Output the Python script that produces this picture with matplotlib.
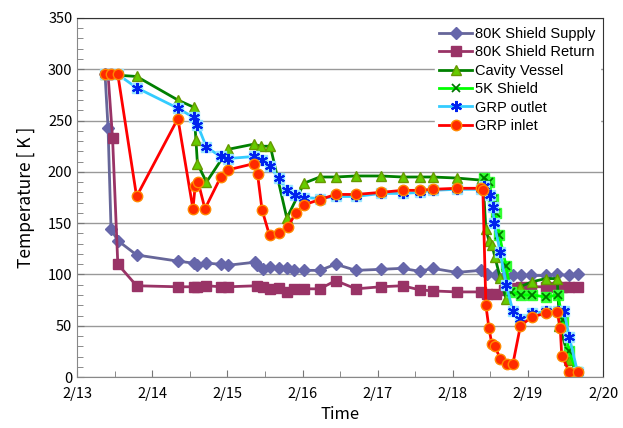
import matplotlib
matplotlib.use("Agg")
import matplotlib.pyplot as plt
from matplotlib.ticker import MultipleLocator

plt.rcParams['font.family'] = ['Noto Sans CJK JP', 'DejaVu Sans']

# time in days of February (13.0 = 2/13 0:00)
t_supply = [13.37, 13.41, 13.45, 13.54, 13.79, 14.34, 14.55, 14.60, 14.72, 14.91, 15.01,
            15.37, 15.39, 15.47, 15.57, 15.68, 15.79, 15.89, 16.02, 16.23, 16.44, 16.71,
            17.04, 17.33, 17.56, 17.73, 18.05, 18.37, 18.46, 18.57, 18.68, 18.80, 18.91,
            19.04, 19.24, 19.39, 19.55, 19.66]
v_supply = [295, 243, 144, 133, 119, 113, 111, 109, 111, 110, 109,
            112, 109, 105, 107, 106, 106, 104, 104, 104, 110, 104,
            105, 106, 103, 106, 102, 104, 100, 99, 98, 99, 99,
            99, 99, 100, 99, 100]

t_return = [13.41, 13.47, 13.54, 13.79, 14.34, 14.55, 14.60, 14.72, 14.91, 15.01,
            15.39, 15.47, 15.57, 15.68, 15.79, 15.89, 16.02, 16.23, 16.44, 16.71,
            17.04, 17.33, 17.56, 17.73, 18.05, 18.37, 18.46, 18.57, 18.68, 18.80,
            18.91, 19.04, 19.24, 19.39, 19.45, 19.55, 19.66]
v_return = [295, 233, 110, 89, 88, 88, 88, 89, 88, 88,
            89, 88, 86, 87, 83, 86, 86, 86, 94, 86,
            88, 89, 85, 84, 83, 83, 81, 81, 85, 87,
            88, 88, 88, 88, 88, 88, 88]

t_cavity = [13.37, 13.79, 14.34, 14.55, 14.58, 14.60, 14.72, 15.01, 15.35, 15.44, 15.57,
            15.79, 16.02, 16.23, 16.44, 16.71, 17.04, 17.33, 17.56, 17.73, 18.05, 18.37,
            18.40, 18.44, 18.48, 18.52, 18.56, 18.63, 18.71, 18.89, 19.06, 19.24, 19.39,
            19.42, 19.55, 19.66]
v_cavity = [295, 293, 270, 263, 231, 208, 190, 222, 227, 225, 225,
            155, 189, 195, 195, 196, 196, 195, 195, 195, 194, 192,
            194, 144, 133, 129, 117, 97, 76, 88, 93, 96, 96,
            50, 17, 5]

t_5k = [18.41, 18.48, 18.53, 18.57, 18.62, 18.71, 18.77, 18.91, 19.06, 19.24, 19.40,
        19.46, 19.55, 19.65]
v_5k = [194, 190, 174, 160, 138, 108, 83, 80, 80, 78, 80,
        56, 25, 5]

t_outlet = [13.37, 13.45, 13.54, 13.79, 14.34, 14.55, 14.60, 14.72, 14.91, 15.01, 15.35,
            15.46, 15.56, 15.68, 15.79, 15.90, 16.02, 16.23, 16.44, 16.71, 17.04, 17.33,
            17.56, 17.73, 18.05, 18.37, 18.41, 18.50, 18.53, 18.55, 18.63, 18.71, 18.80,
            18.90, 19.06, 19.24, 19.40, 19.48, 19.55, 19.66]
v_outlet = [295, 295, 295, 282, 262, 253, 246, 224, 215, 213, 215,
            212, 206, 194, 182, 177, 175, 174, 176, 176, 179, 179,
            180, 182, 183, 183, 186, 177, 166, 150, 122, 90, 64,
            57, 62, 64, 64, 64, 39, 5]

t_inlet = [13.37, 13.45, 13.54, 13.79, 14.34, 14.54, 14.57, 14.61, 14.70, 14.91, 15.01,
           15.35, 15.40, 15.46, 15.56, 15.68, 15.80, 15.91, 16.02, 16.23, 16.44, 16.71,
           17.04, 17.33, 17.56, 17.73, 18.05, 18.37, 18.40, 18.44, 18.48, 18.52, 18.56,
           18.63, 18.72, 18.80, 18.90, 19.06, 19.24, 19.39, 19.43, 19.45, 19.55, 19.66]
v_inlet = [295, 295, 295, 176, 252, 164, 186, 190, 164, 195, 202,
           208, 198, 163, 138, 140, 146, 160, 168, 173, 178, 178,
           180, 182, 182, 183, 184, 184, 182, 70, 48, 32, 30,
           18, 13, 13, 50, 59, 62, 63, 48, 21, 5, 5]

day_labels = ["2/13", "2/14", "2/15", "2/16", "2/17", "2/18", "2/19", "2/20"]

fig = plt.figure(figsize=(6.23, 4.28), dpi=100)
ax = fig.add_axes([0.124, 0.119, 0.844, 0.839])

lw = 2.0
ax.plot(t_supply, v_supply, color='#666699', lw=lw, marker='D', ms=6,
        mfc='#6666aa', mec='#6666aa', label='80K Shield Supply')
ax.plot(t_return, v_return, color='#993366', lw=lw, marker='s', ms=7,
        mfc='#993366', mec='#993366', label='80K Shield Return')
ax.plot(t_cavity, v_cavity, color='#008000', lw=lw, marker='^', ms=7.5,
        mfc='#66cc00', mec='#669900', label='Cavity Vessel')
# 5K shield: lime square behind a dark x
ax.plot(t_5k, v_5k, ls='none', marker='s', ms=7, mfc='#33ff33', mec='#33ff33')
ax.plot(t_5k, v_5k, color='#00ff00', lw=lw, marker='x', ms=6, mew=1.3,
        mec='#007700', label='5K Shield')
# GRP outlet: pale square behind a blue asterisk
ax.plot(t_outlet, v_outlet, color='#33ccff', lw=lw, label='GRP outlet',
        marker='s', ms=7, mfc='#99e6ff', mec='#99e6ff')
ax.plot(t_outlet, v_outlet, ls='none', marker=(6, 2, 0), ms=8, mew=1.5, mec='#0022ee')
ax.plot(t_inlet, v_inlet, color='#ff0000', lw=lw, marker='o', ms=7.5,
        mfc='#ff2a00', mec='#ff8800', mew=1.0, label='GRP inlet')

ax.set_xlim(13, 20)
ax.set_ylim(0, 350)
ax.set_xticks(range(13, 21))
ax.set_xticklabels(day_labels)
ax.xaxis.set_minor_locator(MultipleLocator(0.5))
ax.yaxis.set_major_locator(MultipleLocator(50))
ax.yaxis.set_minor_locator(MultipleLocator(10))
ax.tick_params(which='both', direction='in', colors='#777777', labelcolor='black',
               labelsize=10.5)
ax.tick_params(which='major', length=5)
ax.tick_params(which='minor', length=4)
ax.tick_params(axis='x', pad=7)
ax.yaxis.grid(True, color='#999999', lw=1.0)
ax.set_axisbelow(True)
for side in ['top', 'right']:
    ax.spines[side].set_color('#333333')
for side in ['left', 'bottom']:
    ax.spines[side].set_color('#888888')

ax.set_xlabel('Time', fontsize=12, labelpad=4)
ax.set_ylabel('Temperature [ K ]', fontsize=12.5, labelpad=9)

# legend handles: show the asterisk marker for GRP outlet
handles, labels = ax.get_legend_handles_labels()
from matplotlib.lines import Line2D
handles[4] = Line2D([], [], color='#33ccff', lw=lw, marker=(6, 2, 0), ms=8,
                    mew=1.5, mec='#0022ee')
leg = ax.legend(handles, labels, loc='upper right', bbox_to_anchor=(1.0, 0.995),
                fontsize=10.5, prop={'family': ['Liberation Sans'], 'size': 10.5},
                frameon=True, fancybox=False, edgecolor='white', framealpha=1.0,
                handlelength=2.3, handletextpad=0.2, labelspacing=0.3,
                borderpad=0.3, borderaxespad=0.2)

fig.savefig('out.png', dpi=100)
